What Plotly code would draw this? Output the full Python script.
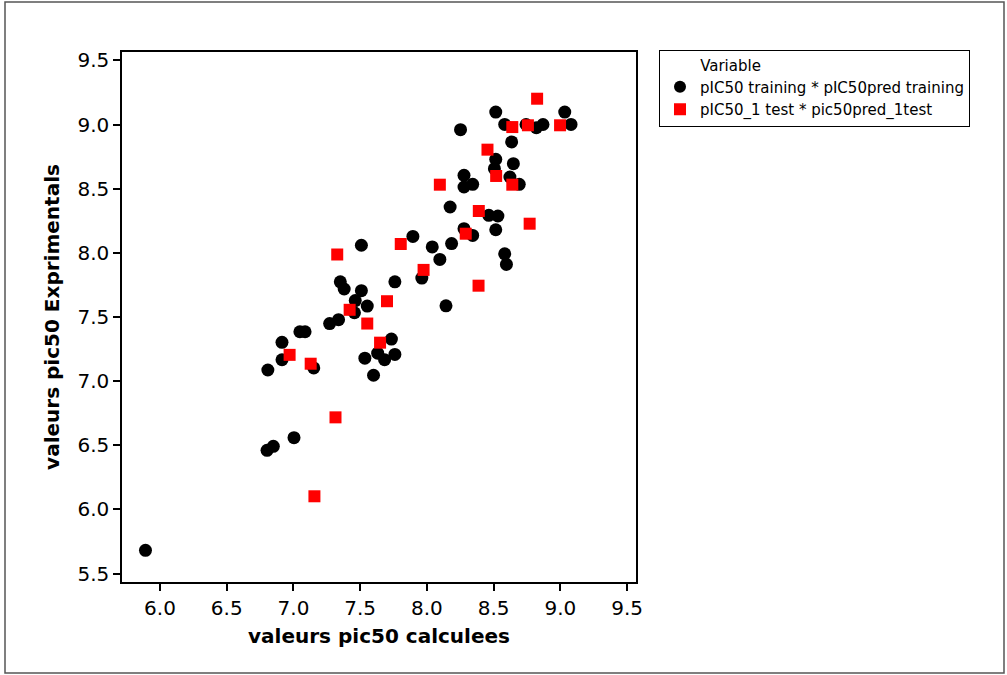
import plotly.graph_objects as go

train_calc = [5.891, 6.802, 6.849, 7.004, 6.808, 6.914, 6.914, 7.152, 7.048, 7.087,
              7.271, 7.338, 7.457, 7.463, 7.509, 7.553, 7.351, 7.380, 7.509, 7.760,
              7.535, 7.600, 7.631, 7.683, 7.734, 7.760, 7.895, 7.962, 8.040, 8.097,
              8.185, 8.143, 8.343, 8.583, 8.596, 8.516, 8.252, 8.583, 8.743, 8.820,
              8.870, 9.033, 9.080, 8.635, 8.516, 8.506, 8.648, 8.278, 8.278, 8.343,
              8.622, 8.692, 8.174, 8.464, 8.532, 8.516, 8.278]
train_exp = [5.682, 6.461, 6.492, 6.560, 7.087, 7.167, 7.303, 7.103, 7.385, 7.385,
             7.449, 7.479, 7.533, 7.628, 7.705, 7.585, 7.774, 7.718, 8.059, 7.774,
             7.179, 7.046, 7.218, 7.167, 7.328, 7.208, 8.128, 7.803, 8.046, 7.949,
             8.072, 7.587, 8.136, 7.992, 7.910, 9.097, 8.960, 9.001, 9.000, 8.975,
             9.000, 9.097, 9.001, 8.864, 8.729, 8.656, 8.695, 8.604, 8.513, 8.534,
             8.591, 8.534, 8.357, 8.292, 8.287, 8.180, 8.188]

test_calc = [8.826, 8.640, 8.757, 8.998, 8.454, 8.097, 8.519, 8.640, 8.389, 8.770,
             8.291, 7.804, 7.328, 7.975, 8.387, 7.701, 7.421, 7.553, 7.649, 6.971,
             7.129, 7.315, 7.157]
test_exp = [9.201, 8.980, 8.994, 8.994, 8.804, 8.531, 8.599, 8.531, 8.326, 8.227,
            8.149, 8.069, 7.987, 7.867, 7.744, 7.623, 7.556, 7.449, 7.300, 7.205,
            7.136, 6.718, 6.103]

tick_vals = [6.0, 6.5, 7.0, 7.5, 8.0, 8.5, 9.0, 9.5]
ytick_vals = [5.5, 6.0, 6.5, 7.0, 7.5, 8.0, 8.5, 9.0, 9.5]

font = "DejaVu Sans"

fig = go.Figure()
fig.add_trace(go.Scatter(
    x=train_calc, y=train_exp, mode="markers",
    name="pIC50 training * pIC50pred training",
    marker=dict(symbol="circle", size=13, color="black", line=dict(width=0)),
))
fig.add_trace(go.Scatter(
    x=test_calc, y=test_exp, mode="markers",
    name="pIC50_1 test * pic50pred_1test",
    marker=dict(symbol="square", size=12, color="#ff0000", line=dict(width=0)),
))

L, R, T, B = 122, 636, 52, 582
W, H = 1007, 675
pw, ph = R - L, B - T

fig.update_layout(
    width=W, height=H,
    margin=dict(l=L, r=W - R, t=T, b=H - B, pad=0),
    paper_bgcolor="white", plot_bgcolor="white",
    font=dict(family=font, color="black"),
    showlegend=True,
    legend=dict(
        title=dict(text="&nbsp;&nbsp;&nbsp;&nbsp;&nbsp;&nbsp;&nbsp;&nbsp;Variable",
                   font=dict(size=15, family=font)),
        font=dict(size=15, family=font),
        x=(659 - L) / pw, y=(B - 50) / ph, xanchor="left", yanchor="top",
        bordercolor="black", borderwidth=1, bgcolor="white",
        itemsizing="constant",
        entrywidth=290, entrywidthmode="pixels",
    ),
    xaxis=dict(
        range=[5.715, 9.567], tickvals=tick_vals, ticktext=[f"{v:.1f}" for v in tick_vals],
        showgrid=False, zeroline=False, showline=True, linecolor="black", linewidth=1.5,
        mirror=True, ticks="outside", ticklen=7, tickwidth=1.5, tickcolor="black",
        tickfont=dict(size=20, family=font),
        title=dict(text="<b>valeurs pic50 calculees</b>", font=dict(size=20, family=font), standoff=10),
    ),
    yaxis=dict(
        range=[5.435, 9.565], tickvals=ytick_vals, ticktext=[f"{v:.1f}" for v in ytick_vals],
        showgrid=False, zeroline=False, showline=True, linecolor="black", linewidth=1.5,
        mirror=True, ticks="outside", ticklen=7, tickwidth=1.5, tickcolor="black",
        tickfont=dict(size=20, family=font),
        title=dict(text="<b>valeurs pic50 Exprimentals</b>", font=dict(size=20, family=font), standoff=12),
    ),
)

# outer frame of the whole graphic
fig.add_shape(type="rect", xref="paper", yref="paper",
              x0=(5 - L) / pw, x1=(1004 - L) / pw,
              y0=(B - 673) / ph, y1=(B - 2) / ph,
              line=dict(color="#555555", width=1.5), layer="below")

fig.write_html("out.html")
